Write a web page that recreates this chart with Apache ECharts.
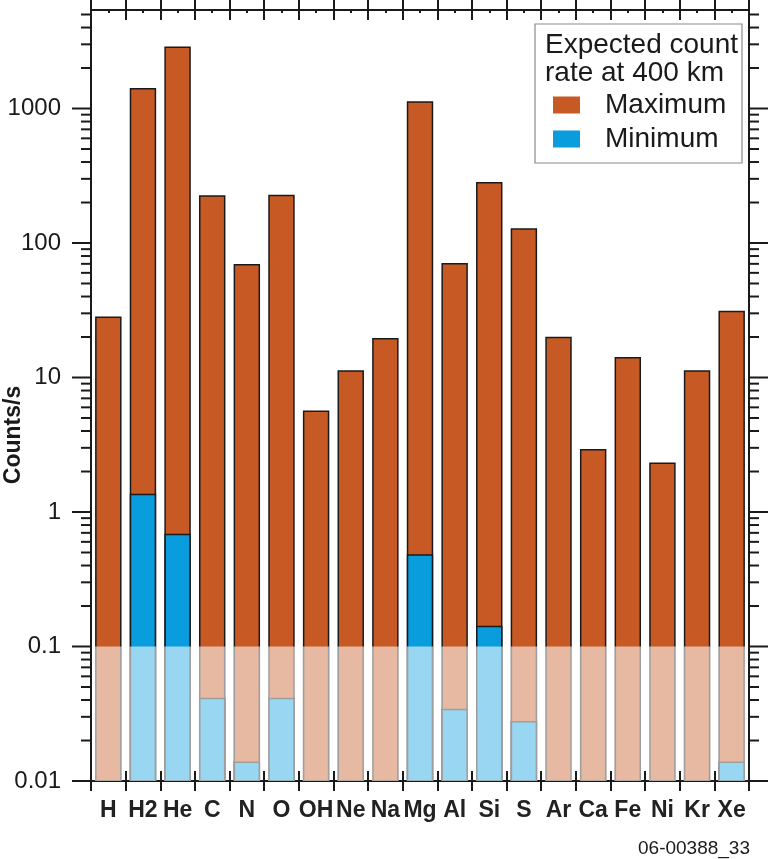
<!DOCTYPE html>
<html>
<head>
<meta charset="utf-8">
<script src="https://cdn.jsdelivr.net/npm/echarts@6/dist/echarts.min.js"></script>
<style>
  html, body { margin: 0; padding: 0; background: #fff; }
  #chart { width: 768px; height: 859px; }
</style>
</head>
<body>
<div id="chart"></div>
<script>
// categories and count rates (counts/s)
const categories = ['H', 'H2', 'He', 'C', 'N', 'O', 'OH', 'Ne', 'Na', 'Mg', 'Al', 'Si', 'S', 'Ar', 'Ca', 'Fe', 'Ni', 'Kr', 'Xe']
const maxRates = [28, 1400, 2850, 224, 69, 226, 5.6, 11.2, 19.4, 1120, 70, 280, 127, 19.8, 2.9, 14, 2.3, 11.2, 31]
const minRates = [null, 1.35, 0.68, 0.041, 0.0138, 0.041, null, null, null, 0.48, 0.034, 0.141, 0.0276, null, null, null, null, null, 0.0138]

// y axis ticks
const yMajorTicks = [0.01, 0.1, 1, 10, 100, 1000]
const yMinorSteps = [2, 3, 4, 5, 6, 7, 8, 9]
const yMin = 0.01
const yMax = 5400
const shadeLimit = 0.1 // below this the bars are drawn pale

const FONT = 'Liberation Sans, Arial, sans-serif'
const INK = '#1a1a1a'
const ORANGE = '#C75A24'
const BLUE = '#0A9DDE'
const BAR_W = 0.72

// tick list for the custom tick series: [x, value, isMajor]
const tickData = []
yMajorTicks.forEach(t => {
  tickData.push([0, t, 1])
  yMinorSteps.forEach(s => {
    const v = t * s
    if (v <= yMax) tickData.push([0, v, 0])
  })
})

const chart = echarts.init(document.getElementById('chart'), null, {renderer: 'canvas'})

const isPow10 = v => Math.abs(Math.log10(v) - Math.round(Math.log10(v))) < 1e-6

// bars drawn from the bottom of the log axis (0.01) up to the value
const barRender = color => (params, api) => {
  const v = api.value(1)
  if (v == null || isNaN(v)) return null
  const top = api.coord([api.value(0), v])
  const bottom = api.coord([api.value(0), yMin])
  const w = api.size([1, 0])[0] * BAR_W
  return {
    type: 'rect',
    shape: {x: top[0] - w / 2, y: top[1], width: w, height: bottom[1] - top[1]},
    style: {fill: color, stroke: INK, lineWidth: 1.5}
  }
}

const option = {
  animation: false,
  backgroundColor: '#fff',
  grid: {left: 91, right: 19, top: 10, bottom: 78},
  legend: {
    data: ['Maximum', 'Minimum'],
    orient: 'vertical',
    left: 548,
    top: 86,
    z: 12,
    icon: 'rect',
    itemWidth: 27,
    itemHeight: 17,
    itemGap: 6,
    selectedMode: false,
    textStyle: {fontFamily: FONT, fontSize: 28, color: INK, lineHeight: 28, padding: [0, 0, 0, 20]}
  },
  xAxis: [
    {
      type: 'category',
      data: categories,
      position: 'bottom',
      axisLine: {lineStyle: {color: INK, width: 2}},
      axisTick: {show: true, inside: false, length: 10, lineStyle: {color: INK, width: 2}},
      axisLabel: {fontFamily: FONT, fontSize: 23, fontWeight: 'bold', color: '#222', margin: 18, interval: 0}
    },
    {
      type: 'category',
      data: categories,
      position: 'bottom',
      axisLine: {show: false},
      axisTick: {show: true, inside: true, length: 10, lineStyle: {color: INK, width: 2}},
      axisLabel: {show: false}
    },
    {
      type: 'category',
      data: categories,
      position: 'top',
      axisLine: {lineStyle: {color: INK, width: 2}},
      axisTick: {show: true, inside: false, length: 10, lineStyle: {color: INK, width: 2}},
      axisLabel: {show: false}
    },
    {
      type: 'category',
      data: categories,
      position: 'top',
      axisLine: {show: false},
      axisTick: {show: true, inside: true, length: 10, lineStyle: {color: INK, width: 2}},
      axisLabel: {show: false}
    },
    {
      type: 'category',
      data: categories,
      position: 'top',
      axisLine: {show: false},
      axisTick: {show: true, inside: true, alignWithLabel: true, length: 3, lineStyle: {color: INK, width: 2}},
      axisLabel: {show: false}
    }
  ],
  yAxis: [
    {
      type: 'log',
      logBase: 10,
      min: yMin,
      max: yMax,
      position: 'left',
      axisLine: {show: true, lineStyle: {color: INK, width: 2}},
      axisTick: {show: false},
      splitLine: {show: false},
      axisLabel: {
        fontFamily: FONT, fontSize: 24, color: INK, margin: 30,
        formatter: v => isPow10(v) ? String(+v.toPrecision(3)) : ''
      }
    },
    {
      type: 'log',
      logBase: 10,
      min: yMin,
      max: yMax,
      position: 'right',
      axisLine: {show: true, lineStyle: {color: INK, width: 2}},
      axisTick: {show: false},
      splitLine: {show: false},
      axisLabel: {show: false}
    }
  ],
  series: [
    {
      name: 'Maximum',
      type: 'custom',
      data: maxRates.map((v, i) => [i, v]),
      encode: {x: 0, y: 1},
      itemStyle: {color: ORANGE},
      z: 2,
      renderItem: barRender(ORANGE)
    },
    {
      name: 'Minimum',
      type: 'custom',
      data: minRates.map((v, i) => [i, v == null ? '-' : v]),
      encode: {x: 0, y: 1},
      itemStyle: {color: BLUE},
      z: 3,
      renderItem: barRender(BLUE)
    },
    {
      // pale wash over the part of each bar below 0.1
      name: 'shade',
      type: 'custom',
      data: categories.map((c, i) => [i, shadeLimit]),
      encode: {x: 0, y: 1},
      z: 5,
      silent: true,
      renderItem: (params, api) => {
        const top = api.coord([api.value(0), shadeLimit])
        const bottom = api.coord([api.value(0), yMin])
        const w = api.size([1, 0])[0] * BAR_W + 2
        return {
          type: 'rect',
          shape: {x: top[0] - w / 2, y: top[1], width: w, height: bottom[1] - top[1]},
          style: {fill: 'rgba(255,255,255,0.58)'}
        }
      }
    },
    {
      // log-axis ticks (major and 2..9 minor) on both sides, pointing outwards
      name: 'ticks',
      type: 'custom',
      data: tickData,
      encode: {x: 0, y: 1},
      z: 6,
      silent: true,
      clip: false,
      renderItem: (params, api) => {
        const cs = params.coordSys
        const y = api.coord([0, api.value(1)])[1]
        const len = api.value(2) ? 19 : 10
        const st = {stroke: INK, lineWidth: 2}
        return {
          type: 'group',
          children: [
            {type: 'line', shape: {x1: cs.x - len, y1: y, x2: cs.x, y2: y}, style: st},
            {type: 'line', shape: {x1: cs.x + cs.width, y1: y, x2: cs.x + cs.width + len, y2: y}, style: st}
          ]
        }
      }
    }
  ],
  graphic: [
    {
      type: 'rect',
      shape: {x: 535, y: 24, width: 207, height: 139},
      style: {fill: '#fff', stroke: '#8a8a8a', lineWidth: 1.2},
      z: 10
    },
    {
      type: 'text',
      left: 545, top: 31,
      style: {text: 'Expected count', font: '28px ' + FONT, fill: INK},
      z: 11
    },
    {
      type: 'text',
      left: 545, top: 59,
      style: {text: 'rate at 400 km', font: '28px ' + FONT, fill: INK},
      z: 11
    },
    {
      type: 'text',
      x: 14, y: 435,
      rotation: Math.PI / 2,
      style: {text: 'Counts/s', font: 'bold 23px ' + FONT, fill: INK, align: 'center', verticalAlign: 'middle'},
      z: 11
    },
    {
      type: 'text',
      right: 18, top: 839,
      style: {text: '06-00388_33', font: '19px ' + FONT, fill: INK},
      z: 11
    }
  ]
}

chart.setOption(option)
window.addEventListener('resize', () => chart.resize())
</script>
</body>
</html>
